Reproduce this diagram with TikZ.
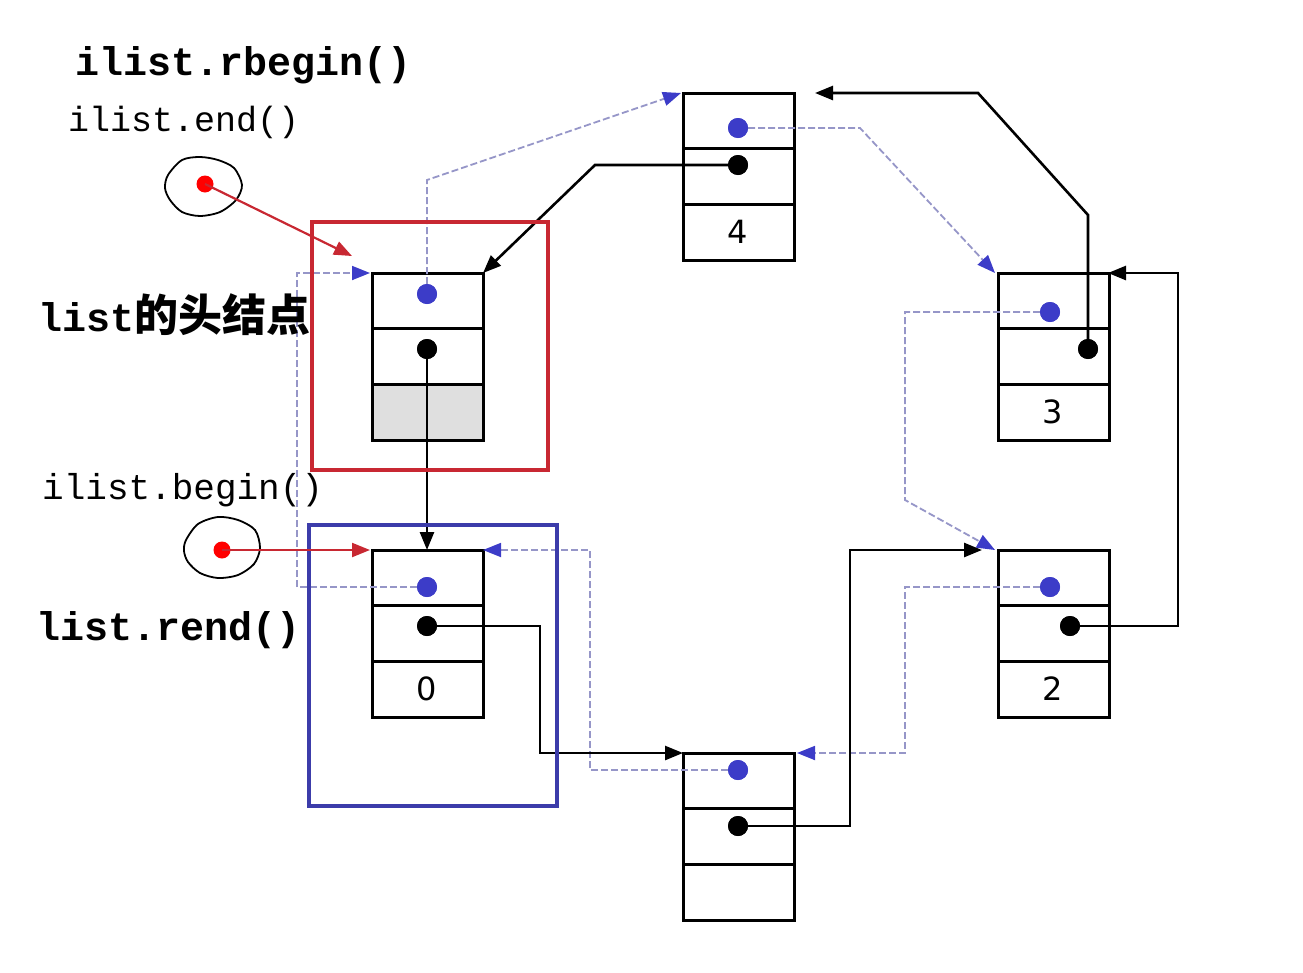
\documentclass[tikz,border=0pt]{standalone}
\usepackage{fontspec}
\setmainfont{Liberation Mono}
\newfontfamily\cjk{Noto Sans CJK SC}
\newfontfamily\nums{DejaVu Sans}
\usetikzlibrary{arrows.meta}
\definecolor{bdot}{RGB}{60,60,200}
\definecolor{rbox}{RGB}{200,40,50}
\definecolor{bbox}{RGB}{60,60,170}
\definecolor{dash}{RGB}{150,150,200}
\begin{document}
\begin{tikzpicture}[x=1pt,y=-1pt,
  cell/.style={draw=black,line width=3pt},
  nxt/.style={draw=black,line width=2.6pt,-{Triangle[length=18pt,width=14pt]}},
  prv/.style={draw=dash,line width=1.8pt,dash pattern=on 7pt off 3pt,-{Triangle[length=18pt,width=14pt,fill=bdot,color=bdot]}},
  red/.style={draw=rbox,line width=2.2pt,-{Triangle[length=18pt,width=14pt]}},
  bd/.style={circle,fill=bdot,inner sep=0pt,minimum size=20pt},
  kd/.style={circle,fill=black,inner sep=0pt,minimum size=20pt},
  rd/.style={circle,fill=red,inner sep=0pt,minimum size=17pt},
  lbl/.style={anchor=west,inner sep=0pt,font=\fontsize{40}{42}\selectfont\bfseries},
  num/.style={font=\nums\fontsize{32}{34}\selectfont}]
\useasboundingbox (0,0) rectangle (1303,972);
\newcommand\cellbox[4]{%
  \draw[cell] (#1,#2) rectangle (#1+111,#2+167);
  \draw[cell] (#1,#2+55) -- (#1+111,#2+55);
  \draw[cell] (#1,#2+111) -- (#1+111,#2+111);
  \node[num] (#3v) at (#1+55,#2+139) {#4};}
\fill[gray!25] (372,385) rectangle (483,440);
\cellbox{372}{273}{h}{}
\cellbox{372}{550}{n0}{0}
\cellbox{683}{93}{n4}{4}
\cellbox{998}{273}{n3}{3}
\cellbox{998}{550}{n2}{2}
\cellbox{683}{753}{n1}{}
\node[bd] (hp) at (427,294) {}; \node[kd] (hn) at (427,349) {};
\node[bd] (p0) at (427,587) {}; \node[kd] (k0) at (427,626) {};
\node[bd] (p4) at (738,128) {}; \node[kd] (k4) at (738,165) {};
\node[bd] (p3) at (1050,312) {}; \node[kd] (k3) at (1088,349) {};
\node[bd] (p2) at (1050,587) {}; \node[kd] (k2) at (1070,626) {};
\node[bd] (p1) at (738,770) {}; \node[kd] (k1) at (738,826) {};
\coordinate (th) at (483,273); \coordinate (t0) at (427,550);
\coordinate (t1) at (683,753); \coordinate (t2) at (982,550);
\coordinate (t3) at (1108,273); \coordinate (t4) at (815,93);
\coordinate (ph) at (370,273); \coordinate (p0t) at (483,550);
\coordinate (p1t) at (797,753); \coordinate (p2t) at (995,550);
\coordinate (p3t) at (995,273); \coordinate (p4t) at (681,93);
\draw[prv] (hp.center) -- (427,180) -- (p4t);
\draw[prv] (p4.center) -- (860,128) -- (p3t);
\draw[prv] (p3.center) -- (905,312) -- (905,500) -- (p2t);
\draw[prv] (p2.center) -- (905,587) -- (905,753) -- (p1t);
\draw[prv] (p1.center) -- (590,770) -- (590,550) -- (p0t);
\draw[prv] (p0.center) -- (297,587) -- (297,273) -- (ph);
\draw[nxt] (hn.center) -- (t0);
\draw[nxt] (k0.center) -- (540,626) -- (540,753) -- (t1);
\draw[nxt] (k1.center) -- (850,826) -- (850,550) -- (t2);
\draw[nxt] (k2.center) -- (1178,626) -- (1178,273) -- (t3);
\draw[nxt] (k3.center) -- (1088,215) -- (978,93) -- (t4);
\draw[nxt] (k4.center) -- (595,165) -- (th);
\foreach \d in {hp,p0,p4,p3,p2,p1} \fill[bdot] (\d) circle (10pt);
\foreach \d in {hn,k0,k4,k3,k2,k1} \fill[black] (\d) circle (10pt);
\draw[rbox,line width=4.5pt] (312,222) rectangle (548,470);
\draw[bbox,line width=4.5pt] (309,525) rectangle (557,806);
\draw[line width=1.8pt] plot[smooth cycle] coordinates {(168,175)(182,160)(200,157)(218,160)(234,168)(242,185)(236,200)(220,212)(200,216)(182,212)(170,200)(165,188)};
\node[rd] (c1) at (205,184) {};
\draw[line width=1.8pt] plot[smooth cycle] coordinates {(186,540)(198,524)(218,517)(238,520)(255,530)(260,548)(254,564)(238,575)(218,578)(200,573)(188,562)(184,551)};
\node[rd] (c2) at (222,550) {};
\coordinate (r1) at (352,256); \coordinate (r2) at (370,550);
\draw[red] (c1.center) -- (r1);
\draw[red] (c2.center) -- (r2);
\node[lbl] (l1) at (75,65) {ilist.rbegin()};
\node[lbl,font=\fontsize{35}{37}\selectfont] (l2) at (68,122) {ilist.end()};
\node[lbl] (l3) at (38,315) {list{\cjk\fontsize{44}{46}\selectfont 的头结点}};
\node[lbl,font=\fontsize{36}{38}\selectfont] (l4) at (42,490) {ilist.begin()};
\node[lbl] (l5) at (36,630) {list.rend()};
\end{tikzpicture}
\end{document}
